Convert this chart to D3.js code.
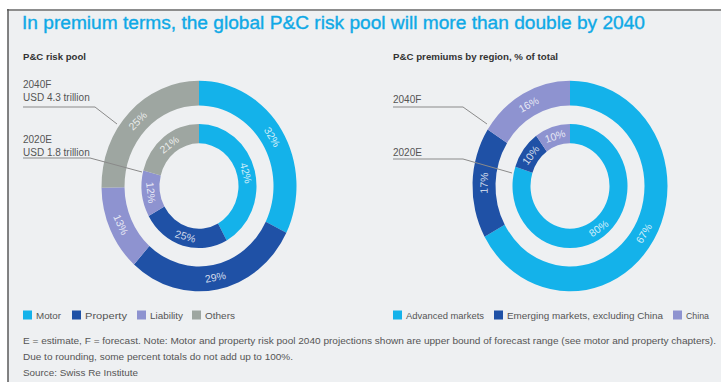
<!DOCTYPE html>
<html lang="en">
<head>
<meta charset="UTF-8">
<title>Global P&amp;C risk pool</title>
<script src="https://d3js.org/d3.v7.min.js"></script>
<style>
  body { margin: 0; background: #fff; }
  svg { display: block; font-family: "Liberation Sans", Arial, sans-serif; }
</style>
</head>
<body>
<svg id="chart" width="721" height="382"></svg>
<script>
// ---- data ----
const lineTypes = ["Motor", "Property", "Liability", "Others"];
const pool2040 = [32, 29, 13, 25];
const pool2020 = [42, 25, 12, 21];

const regions = ["Advanced markets", "Emerging markets, excluding China", "China"];
const region2040 = [67, 17, 16];
const region2020 = [80, 10, 10];

const poolCallouts = [["2040F", "USD 4.3 trillion"], ["2020E", "USD 1.8 trillion"]];
const regionCallouts = [["2040F"], ["2020E"]];

const notes = [
  "E = estimate, F = forecast. Note: Motor and property risk pool 2040 projections shown are upper bound of forecast range (see motor and property chapters).",
  "Due to rounding, some percent totals do not add up to 100%.",
  "Source: Swiss Re Institute"
];

const colors = ["#14b2ea", "#1f51a6", "#8e93d0", "#9ea6a1"];

const svg = d3.select("#chart");

// panel background + frame
svg.append("rect").attr("x", 8).attr("y", 10).attr("width", 713).attr("height", 372).attr("fill", "#eef0f2");
svg.append("line").attr("x1", 7).attr("x2", 721).attr("y1", 10).attr("y2", 10).attr("stroke", "#8d8d8d").attr("stroke-width", 2);
svg.append("line").attr("x1", 8).attr("x2", 8).attr("y1", 9).attr("y2", 382).attr("stroke", "#5a5a5a").attr("stroke-width", 1.5);

// title
svg.append("text")
  .attr("x", 22).attr("y", 29)
  .attr("fill", "#0fa9e6")
  .attr("stroke", "#0fa9e6").attr("stroke-width", 0.35)
  .attr("font-size", 18)
  .attr("textLength", 623).attr("lengthAdjust", "spacingAndGlyphs")
  .text("In premium terms, the global P&C risk pool will more than double by 2040");

// subtitles
svg.append("text").attr("x", 23).attr("y", 60).attr("font-size", 8.5).attr("font-weight", "bold")
  .attr("fill", "#333").attr("textLength", 63).attr("lengthAdjust", "spacingAndGlyphs").text("P&C risk pool");
svg.append("text").attr("x", 393).attr("y", 60).attr("font-size", 8.5).attr("font-weight", "bold")
  .attr("fill", "#333").attr("textLength", 165).attr("lengthAdjust", "spacingAndGlyphs").text("P&C premiums by region, % of total");

// donut drawing
const yStretch = 1.08;
const rings = { outer: [74.5, 97.5], inner: [39.5, 57.5] };
const pie = d3.pie().sort(null).value(d => d);

function drawRing(parent, values, radii) {
  const g = parent.append("g");
  const arc = d3.arc().innerRadius(radii[0]).outerRadius(radii[1]);
  const arcs = pie(values);
  g.append("g").attr("transform", `scale(1,${yStretch})`)
    .selectAll("path").data(arcs).join("path")
    .attr("d", arc)
    .attr("fill", (d, i) => colors[i]);
  g.append("g").selectAll("text").data(arcs).join("text")
    .attr("transform", d => {
      const c = arc.centroid(d);
      const deg = (d.startAngle + d.endAngle) / 2 * 180 / Math.PI;
      const rot = deg < 90 ? deg : deg < 270 ? deg - 180 : deg - 360;
      return `translate(${c[0]},${c[1] * yStretch}) rotate(${rot})`;
    })
    .attr("text-anchor", "middle")
    .attr("dy", "0.35em")
    .attr("font-size", 10.5)
    .attr("fill", "#fff")
    .attr("fill-opacity", 0.8)
    .text(d => d.data + "%");
}

const left = svg.append("g").attr("transform", "translate(199,186)");
drawRing(left, pool2040, rings.outer);
drawRing(left, pool2020, rings.inner);

const right = svg.append("g").attr("transform", "translate(570,186)");
drawRing(right, region2040, rings.outer);
drawRing(right, region2020, rings.inner);

// callouts
function callout(x, y, lines, lineY, bendX, endX, endY) {
  lines.forEach((t, i) => {
    svg.append("text").attr("x", x).attr("y", y + i * 12.5)
      .attr("font-size", 10).attr("fill", "#555").text(t);
  });
  svg.append("polyline")
    .attr("points", [[x, lineY], [bendX, lineY], [endX, endY]].map(p => p.join(",")).join(" "))
    .attr("fill", "none").attr("stroke", "#8a8a8a").attr("stroke-width", 1);
}
callout(23, 88, poolCallouts[0], 107, 95, 117, 124);
callout(23, 143, poolCallouts[1], 158, 90, 142, 172);
callout(393, 103, regionCallouts[0], 107, 463, 487, 124);
callout(393, 156, regionCallouts[1], 159, 463, 512, 173);

// legends
function legend(items, xs, widths, y) {
  items.forEach((name, i) => {
    svg.append("rect").attr("x", xs[i]).attr("y", y - 4.5).attr("width", 9).attr("height", 9).attr("fill", colors[i]);
    svg.append("text").attr("x", xs[i] + 13).attr("y", y + 3.5)
      .attr("font-size", 9.5).attr("fill", "#555")
      .attr("textLength", widths[i]).attr("lengthAdjust", "spacingAndGlyphs")
      .text(name);
  });
}
legend(lineTypes, [23, 72, 137, 192], [25, 42, 33, 30], 315);
legend(regions, [393, 494, 673], [78, 156, 23], 315);

// notes
const noteWidths = [693, 270, 115];
notes.forEach((t, i) => {
  svg.append("text").attr("x", 23).attr("y", 344 + i * 16)
    .attr("font-size", 9.5).attr("fill", "#555")
    .attr("textLength", noteWidths[i]).attr("lengthAdjust", "spacingAndGlyphs")
    .text(t);
});
</script>
</body>
</html>
